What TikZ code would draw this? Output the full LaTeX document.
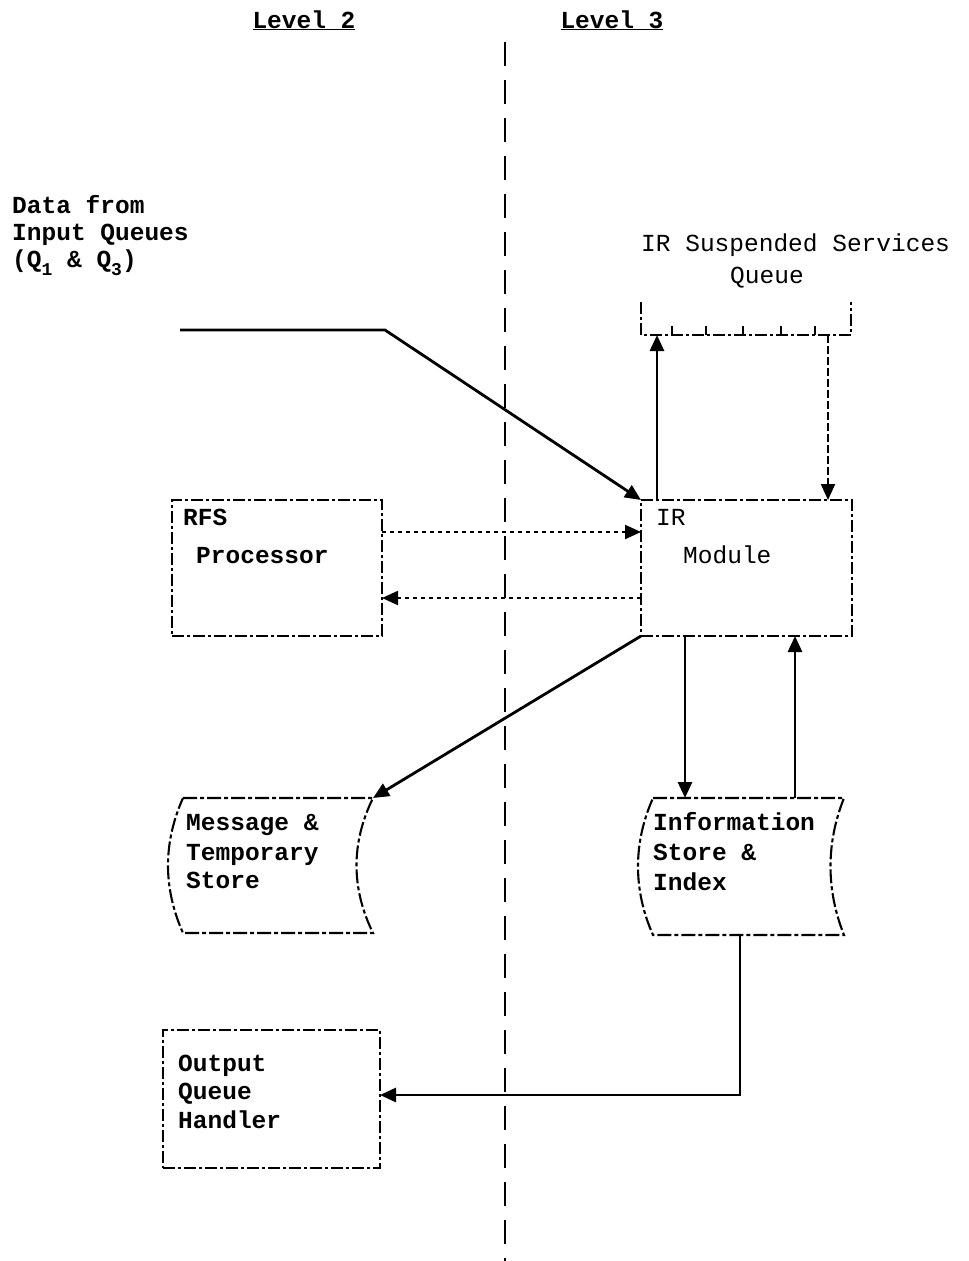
\documentclass[tikz,border=0pt]{standalone}
\usepackage{fontspec}
\newfontfamily\tw{Liberation Mono}
\usetikzlibrary{arrows.meta}
\begin{document}
\begin{tikzpicture}[x=1pt,y=-1pt,
  txt/.style={font=\tw\fontsize{24.5}{29}\selectfont\bfseries, inner sep=0pt, anchor=base west},
  txtr/.style={font=\tw\fontsize{24.5}{29}\selectfont, inner sep=0pt, anchor=base west},
  lvl/.style={font=\tw\fontsize{24.5}{29}\selectfont\bfseries, inner sep=0pt, anchor=base},
  boxline/.style={draw, line width=2.1pt, dash pattern=on 12pt off 3pt on 3pt off 3pt},
  inv/.style={inner sep=0pt, outer sep=0pt},
  store/.style={line width=2.1pt, dash pattern=on 14pt off 3pt on 4pt off 3pt},
  conn/.style={line width=2.8pt},
  dotconn/.style={line width=2.1pt, dash pattern=on 4pt off 4pt},
  divider/.style={line width=2.3pt, dash pattern=on 24pt off 14pt},
  tip/.tip={Triangle[length=16pt,width=14pt]}
]
\useasboundingbox (0,0) rectangle (969,1261);

% level labels and divider
\node[lvl] (lev2) at (304,28) {\underline{Level 2}};
\node[lvl] (lev3) at (612,28) {\underline{Level 3}};
\coordinate (divT) at (505,42);
\coordinate (divB) at (505,1261);
\draw[divider] (divT) -- (divB);

% input data label
\node[txt] (d1) at (12,213) {Data from};
\node[txt] (d2) at (12,240) {Input Queues};
\node[txt] (d3) at (12,267) {(Q\raisebox{-0.35em}{\fontsize{18}{18}\selectfont 1} \& Q\raisebox{-0.35em}{\fontsize{18}{18}\selectfont 3})};

% queue
\node[txtr] (q1) at (641,251) {IR Suspended Services};
\node[txtr] (q2) at (730,283) {Queue};
\node[inv, minimum width=210pt, minimum height=33pt] (queue) at (746,318.5) {};
\draw[boxline]
  (queue.north west) -- (queue.south west) -- (queue.south east) -- (queue.north east);
\foreach \tx in {672,706,743,781,815}
  \draw[line width=2.1pt] (queue.south west -| \tx,0) -- ++(0,-9);

% boxes
\node[inv, boxline, minimum width=210pt, minimum height=136pt] (rfs) at (277,568) {};
\node[inv, boxline, minimum width=211pt, minimum height=136pt] (ir) at (746.5,568) {};
\node[inv, boxline, minimum width=217pt, minimum height=138pt] (out) at (271.5,1099) {};

\node[txt] (r1) at (183,525) {RFS};
\node[txt] (r2) at (196,563) {Processor};
\node[txtr] (i1) at (656,525) {IR};
\node[txtr] (i2) at (683,563) {Module};
\node[txt] (o1) at (178,1071) {Output};
\node[txt] (o2) at (178,1099) {Queue};
\node[txt] (o3) at (178,1128) {Handler};

% stores
\node[inv, minimum width=190pt, minimum height=135pt] (msg) at (278,865.5) {};
\draw[store] (msg.north west) -- (msg.north east)
  .. controls ([xshift=-22pt,yshift=-45pt]msg.north east) and ([xshift=-22pt,yshift=45pt]msg.south east) .. (msg.south east)
  -- (msg.south west)
  .. controls ([xshift=-20pt,yshift=45pt]msg.south west) and ([xshift=-20pt,yshift=-45pt]msg.north west) .. (msg.north west);
\node[txt] (m1) at (186,830) {Message \&};
\node[txt] (m2) at (186,860) {Temporary};
\node[txt] (m3) at (186,888) {Store};

\node[inv, minimum width=191pt, minimum height=137pt] (info) at (748.5,866.5) {};
\draw[store] (info.north west) -- (info.north east)
  .. controls ([xshift=-18pt,yshift=-45pt]info.north east) and ([xshift=-18pt,yshift=45pt]info.south east) .. (info.south east)
  -- (info.south west)
  .. controls ([xshift=-20pt,yshift=45pt]info.south west) and ([xshift=-20pt,yshift=-45pt]info.north west) .. (info.north west);
\node[txt] (n1) at (653,830) {Information};
\node[txt] (n2) at (653,860) {Store \&};
\node[txt] (n3) at (653,890) {Index};

% connectors
\coordinate (inA) at (180,330);
\coordinate (inB) at (385,330);
\draw[conn,-tip] (inA) -- (inB) -- (ir.north west);

\coordinate (qL) at (657,0);
\coordinate (qR) at (828,0);
\draw[conn,-tip] (ir.north -| qL) -- (queue.south -| qL);
\draw[line width=2.1pt, dash pattern=on 8pt off 3pt,-tip] (queue.south -| qR) -- (ir.north -| qR);

\coordinate (h1) at (0,532);
\coordinate (h2) at (0,598);
\draw[dotconn,-tip] (rfs.east |- h1) -- (ir.west |- h1);
\draw[dotconn,-tip] (ir.west |- h2) -- (rfs.east |- h2);

\draw[conn,-tip] (ir.south west) -- (msg.north east);

\coordinate (c685) at (685,0);
\coordinate (c795) at (795,0);
\coordinate (c740) at (740,0);
\coordinate (outy) at (0,1095);
\draw[conn,-tip] (ir.south -| c685) -- (info.north -| c685);
\draw[conn,-tip] (info.north -| c795) -- (ir.south -| c795);
\draw[conn,-tip] (info.south -| c740) -- (c740 |- outy) -- (out.east |- outy);
\end{tikzpicture}
\end{document}
